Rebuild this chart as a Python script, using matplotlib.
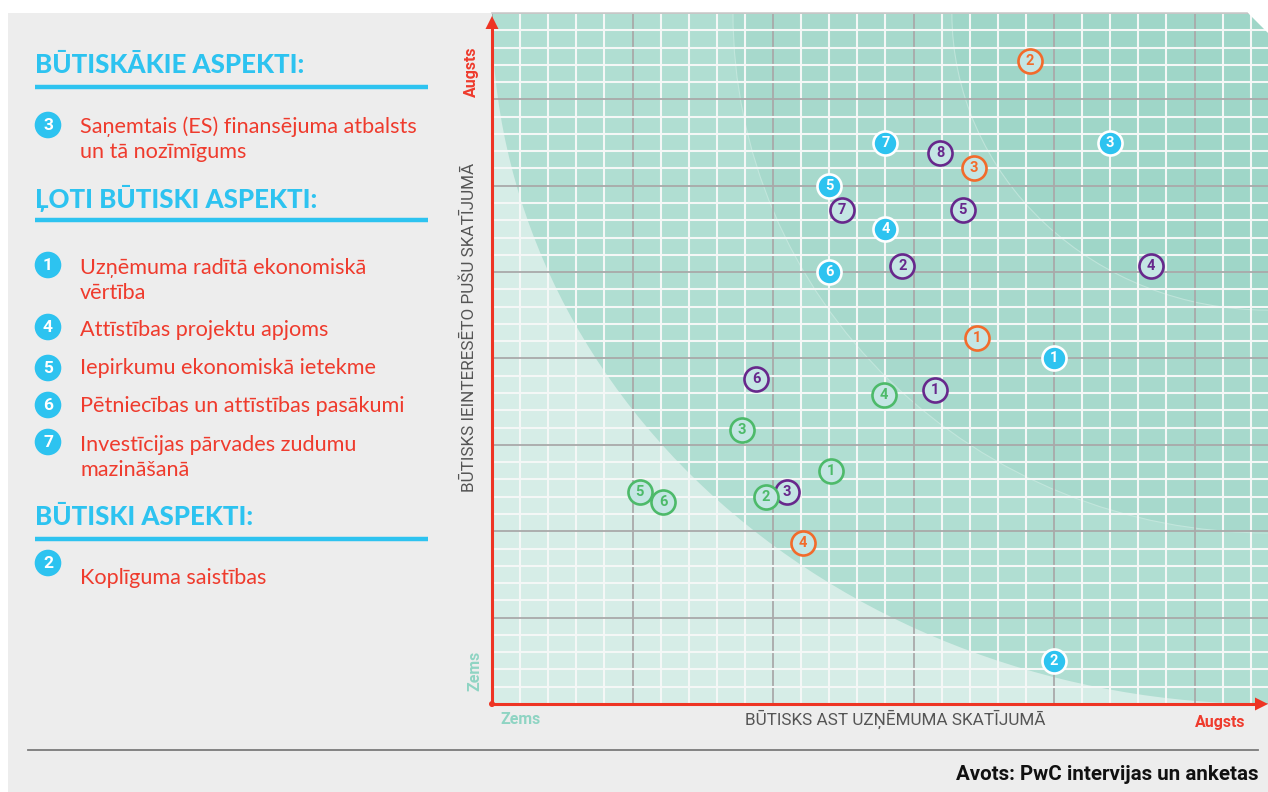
import matplotlib
matplotlib.use('Agg')
import matplotlib.pyplot as plt
from matplotlib.patches import Ellipse, Circle, Polygon, Rectangle
import numpy as np

# --- data (chart units: x in small grid cells, y in small grid cells) ---
blue_x = [14, 22, 12, 14, 12, 20, 20]
blue_y = [32.5, 32.5, 30, 27.5, 25, 20, 2.5]
blue_lbl = ['7', '3', '5', '4', '6', '1', '2']

orange_x = [19.15, 17.15, 17.25, 11.05]
orange_y = [37.2, 31.0, 21.2, 9.3]
orange_lbl = ['2', '3', '1', '4']

purple_x = [15.95, 12.45, 16.75, 14.6, 23.45, 15.75, 9.4, 10.5]
purple_y = [31.9, 28.6, 28.6, 25.35, 25.35, 18.2, 18.8, 12.25]
purple_lbl = ['8', '7', '5', '2', '4', '1', '6', '3']

green_x = [13.95, 8.9, 12.05, 9.75, 5.25, 6.1]
green_y = [17.9, 15.85, 13.5, 12.0, 12.25, 11.7]
green_lbl = ['4', '3', '1', '2', '5', '6']

sections = ['BŪTISKĀKIE ASPEKTI:', 'ĻOTI BŪTISKI ASPEKTI:', 'BŪTISKI ASPEKTI:']
legend_nums = ['3', '1', '4', '5', '6', '7', '2']
legend_text = ['Saņemtais (ES) finansējuma atbalsts\nun tā nozīmīgums',
               'Uzņēmuma radītā ekonomiskā\nvērtība',
               'Attīstības projektu apjoms',
               'Iepirkumu ekonomiskā ietekme',
               'Pētniecības un attīstības pasākumi',
               'Investīcijas pārvades zudumu\nmazināšanā',
               'Koplīguma saistības']

BLUE = '#2dc3f0'
RED = '#ef3b2d'
ORANGE = '#f26b2b'
PURPLE = '#67288c'
GREEN = '#4dba6a'
TEAL = '#8fd4c3'
RING_FILL = '#c4e6e4'
AXIS_RED = '#ee3524'

W, H = 1268, 792
fig = plt.figure(figsize=(W / 100, H / 100), dpi=100)
fig.patch.set_facecolor('white')

# background / left panel in pixel coordinates
bg = fig.add_axes([0, 0, 1, 1], zorder=0)
bg.set_xlim(0, W)
bg.set_ylim(H, 0)
bg.axis('off')
bg.add_patch(Rectangle((8, 13), W - 8, H - 13, color='#ededed', lw=0))

head_font = ['Lato', 'DejaVu Sans']
head_y = [65, 198, 517]
for txt, y in zip(sections, head_y):
    bg.text(35, y, txt, color=BLUE, fontsize=18.6, fontweight='black',
            family=head_font, va='center', ha='left')
    bg.plot([35, 428], [y + 22, y + 22], color=BLUE, lw=3.2, solid_capstyle='butt')

circ_y = [125, 265, 327, 368, 405, 442, 563]
text_y = [127, 268, 330, 368, 406, 445, 578]
for num, txt, cy, ty in zip(legend_nums, legend_text, circ_y, text_y):
    bg.add_patch(Circle((48, cy), 13.3, color=BLUE, lw=0))
    bg.text(48, cy + 0.5, num, color='white', fontsize=12.5, fontweight='bold',
            family=['Roboto', 'DejaVu Sans'], ha='center', va='center')
    for k, line in enumerate(txt.split('\n')):
        bg.text(80, ty + 25 * k, line, color=RED, fontsize=15.6, family=head_font,
                ha='left', va='center')

# axis labels
lab_font = ['Roboto', 'DejaVu Sans']
bg.text(895, 719, 'BŪTISKS AST UZŅĒMUMA SKATĪJUMĀ', color='#555555', fontsize=12.3,
        family=lab_font, ha='center', va='center')
bg.text(469, 327, 'BŪTISKS IEINTERESĒTO PUŠU SKATĪJUMĀ', color='#555555', fontsize=12.3,
        family=lab_font, ha='center', va='center', rotation=90)
bg.text(500, 719, 'Zems', color=TEAL, fontsize=11.5, fontweight='bold',
        family=lab_font, ha='left', va='center')
bg.text(1245, 722, 'Augsts', color=RED, fontsize=11.5, fontweight='bold',
        family=lab_font, ha='right', va='center')
bg.text(471, 72, 'Augsts', color=RED, fontsize=11.5, fontweight='bold',
        family=lab_font, ha='center', va='center', rotation=90)
bg.text(475, 671, 'Zems', color=TEAL, fontsize=11.5, fontweight='bold',
        family=lab_font, ha='center', va='center', rotation=90)

bg.plot([28, 1258], [750, 750], color='#7a7a7a', lw=1.3)
bg.text(1258, 775, 'Avots: PwC intervijas un anketas', color='#111111', fontsize=14.8,
        fontweight='bold', family=lab_font, ha='right', va='center')

# --- chart ---
x0, y0, cw, ch = 492, 704, 776, 691
ax = fig.add_axes([x0 / W, (H - y0) / H, cw / W, ch / H], zorder=1)
xmax = cw / 28.1
ymax = 40
ax.set_xlim(0, xmax)
ax.set_ylim(0, ymax)
ax.set_facecolor('#d6ede7')
for s in ax.spines.values():
    s.set_visible(False)

# importance zones (quarter ellipses around the top-right corner)
ax.add_patch(Ellipse((xmax, ymax), 2 * xmax, 2 * ymax, color='#b0ded2', lw=0, zorder=0.1))
ax.add_patch(Ellipse((xmax, ymax), 2 * 19.04, 2 * 30.1, facecolor='#a7d9cc',
                     edgecolor='#c2e6dc', lw=0.8, zorder=0.2))
ax.add_patch(Ellipse((xmax, ymax), 2 * 11.25, 2 * 17.2, facecolor='#9fd6c8',
                     edgecolor='#bfe4da', lw=0.8, zorder=0.3))

ax.set_xticks(np.arange(0, xmax, 5))
ax.set_yticks(np.arange(0, ymax + 1, 5))
ax.set_xticks(np.arange(0, xmax, 1), minor=True)
ax.set_yticks(np.arange(0, ymax + 1, 1), minor=True)
ax.set_axisbelow(True)
ax.grid(which='minor', color='#f4f7f6', lw=1.5)
ax.grid(which='major', color='#a9a9a9', lw=1.3)
ax.tick_params(which='both', length=0, labelbottom=False, labelleft=False)

z = 3
def draw_points(xs, ys, labels, face, edge, tcolor):
    global z
    for x, y, lbl in zip(xs, ys, labels):
        ax.scatter([x], [y], s=300, facecolor=face, edgecolor=edge, linewidth=1.9,
                   zorder=z, clip_on=False)
        ax.text(x, y, lbl, color=tcolor, fontsize=10.5, fontweight='bold',
                family=['Roboto', 'DejaVu Sans'], ha='center', va='center',
                zorder=z + 0.5)
        z += 1

draw_points(blue_x, blue_y, blue_lbl, BLUE, 'white', 'white')
draw_points(orange_x, orange_y, orange_lbl, RING_FILL, ORANGE, ORANGE)
draw_points(purple_x, purple_y, purple_lbl, RING_FILL, PURPLE, PURPLE)
draw_points(green_x, green_y, green_lbl, RING_FILL, GREEN, GREEN)

# --- overlay: axes arrows, top border, chamfer ---
top = fig.add_axes([0, 0, 1, 1], zorder=2)
top.set_xlim(0, W)
top.set_ylim(H, 0)
top.axis('off')
top.patch.set_alpha(0)
top.plot([492, 1247], [13, 13], color='#cccccc', lw=1.2)
top.add_patch(Polygon([(1247, 12), (1270, 12), (1270, 35)], closed=True, color='white', lw=0))
top.plot([492, 492], [704, 26], color=AXIS_RED, lw=2.2)
top.plot([492, 1258], [704, 704], color=AXIS_RED, lw=2.2)
top.add_patch(Polygon([(485.5, 29), (498.5, 29), (492, 16)], closed=True, color=AXIS_RED, lw=0))
top.add_patch(Polygon([(1255, 697.5), (1255, 710.5), (1268, 704)], closed=True, color=AXIS_RED, lw=0))
top.add_patch(Circle((492, 704), 3, color=AXIS_RED, lw=0))

fig.savefig('out.png', dpi=100)
